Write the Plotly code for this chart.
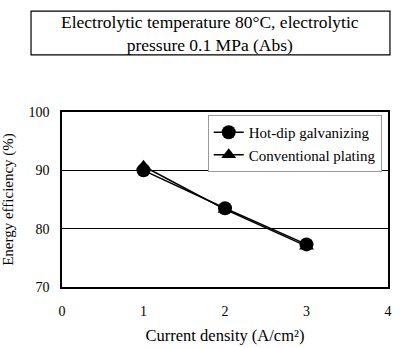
import plotly.graph_objects as go

current_density = [1, 2, 3]
hot_dip = [90.0, 83.5, 77.3]
conventional = [90.7, 83.3, 77.0]
x_ticks = [0, 1, 2, 3, 4]
y_ticks = [70, 80, 90, 100]

FONT = "Liberation Serif"

fig = go.Figure()
fig.add_trace(go.Scatter(
    x=current_density, y=conventional, name="Conventional plating",
    mode="lines+markers",
    line=dict(color="black", width=1.5),
    marker=dict(symbol="triangle-up", size=13, color="black"),
))
fig.add_trace(go.Scatter(
    x=current_density, y=hot_dip, name="Hot-dip galvanizing",
    mode="lines+markers",
    line=dict(color="black", width=1.5),
    marker=dict(symbol="circle", size=14, color="black"),
))

fig.update_layout(
    width=400, height=348,
    margin=dict(l=62, r=12, t=112, b=61),
    paper_bgcolor="white", plot_bgcolor="white",
    font=dict(family=FONT, size=13, color="black"),
    showlegend=True,
    legend=dict(
        x=0.447, y=0.983, xanchor="left", yanchor="top",
        bgcolor="white", bordercolor="#999999", borderwidth=1,
        font=dict(family=FONT, size=15, color="black"),
        traceorder="reversed", tracegroupgap=0,
    ),
    xaxis=dict(
        range=[0, 4], tickvals=x_ticks, showgrid=False, zeroline=False,
        showline=True, linecolor="black", linewidth=1.5, mirror=True,
        ticks="", ticklabelstandoff=10, automargin=False,
        tickfont=dict(family=FONT, size=14, color="black"),
        title=dict(text="Current density (A/cm²)", standoff=12,
                   font=dict(family=FONT, size=16.5, color="black")),
    ),
    yaxis=dict(
        range=[70, 100], tickvals=y_ticks, showgrid=True,
        gridcolor="black", gridwidth=1.2, zeroline=False,
        showline=True, linecolor="black", linewidth=1.5, mirror=True,
        ticks="", ticklabelstandoff=8, automargin=False,
        tickfont=dict(family=FONT, size=14, color="black"),
        title=dict(text="Energy efficiency (%)", standoff=12,
                   font=dict(family=FONT, size=15, color="black")),
    ),
)

fig.add_shape(type="rect", xref="paper", yref="paper",
              x0=-0.095, x1=1.006, y0=1.326, y1=1.577,
              line=dict(color="black", width=1.2), fillcolor="white",
              layer="below")
fig.add_annotation(
    xref="paper", yref="paper", x=0.455, y=1.451,
    xanchor="center", yanchor="middle", showarrow=False,
    text="Electrolytic temperature 80°C, electrolytic<br>pressure 0.1 MPa (Abs)",
    font=dict(family=FONT, size=17.5, color="black"),
)

fig.write_html("out.html")
